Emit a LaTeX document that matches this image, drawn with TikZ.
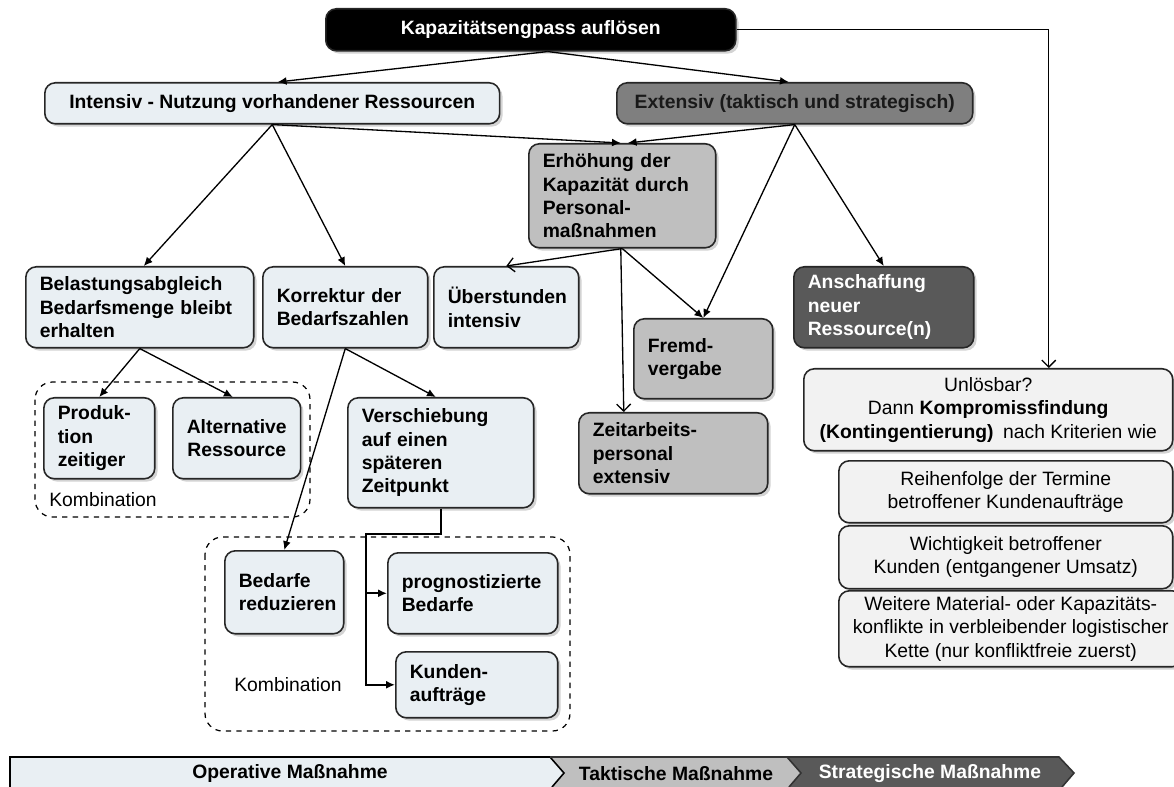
\documentclass[tikz,border=0pt]{standalone}
\usepackage{fontspec}
\setmainfont{Liberation Sans}
\usetikzlibrary{arrows.meta,shadows}
\definecolor{opblue}{RGB}{233,239,243}
\definecolor{taktgray}{RGB}{191,191,191}
\definecolor{midgray}{RGB}{127,127,127}
\definecolor{stratgray}{RGB}{89,89,89}
\definecolor{palegray}{RGB}{242,242,242}
\hyphenpenalty=10000
\exhyphenpenalty=10000

\begin{document}
\begin{tikzpicture}[x=0.02cm,y=-0.02cm,
  box/.style={draw=black!85, line width=0.9pt, rounded corners=6pt, anchor=north west,
    inner xsep=0.28cm, inner ysep=2pt, font=\fontsize{11}{13.3}\selectfont\bfseries,
    drop shadow={shadow xshift=1.6pt,shadow yshift=-1.6pt,opacity=0.35}},
  opbox/.style={box, fill=opblue, align=left},
  taktbox/.style={box, fill=taktgray, align=left},
  critbox/.style={box, fill=palegray, align=center, font=\fontsize{11}{13.3}\selectfont},
  note/.style={font=\fontsize{11}{13.3}\selectfont, inner sep=1pt},
  bartext/.style={font=\fontsize{11}{13.3}\selectfont\bfseries, inner sep=1pt},
  con/.style={line width=0.75pt, -{Latex[length=5pt,width=4.5pt]}},
  opencon/.style={line width=0.75pt, -{Straight Barb[length=4pt,width=8pt]}},
  group/.style={dashed, line width=0.7pt, rounded corners=10pt}]
  \useasboundingbox (0,0) rectangle (1174,787);

  \node[box, fill=black, text=white, align=center, minimum width=8.2cm, minimum height=0.84cm]
    (top) at (325,8) {Kapazitätsengpass auflösen};
  \node[box, fill=opblue, align=center, minimum width=9.1cm, minimum height=0.82cm]
    (intensiv) at (44,82) {Intensiv - Nutzung vorhandener Ressourcen};
  \node[box, fill=midgray, text=black!90, align=center, minimum width=7.12cm, minimum height=0.82cm]
    (extensiv) at (616,82) {Extensiv (taktisch und strategisch)};
  \node[taktbox, text width=3.18cm, minimum height=2.08cm] (erhoehung) at (528,143)
    {Erhöhung der\\Kapazität durch\\Personal-\\maßnahmen};

  \node[opbox, text width=4.0cm, minimum height=1.62cm] (belast) at (25,266)
    {Belastungsabgleich\\Bedarfsmenge bleibt\\erhalten};
  \node[opbox, text width=2.74cm, minimum height=1.62cm] (korrektur) at (262,266)
    {Korrektur der\\Bedarfszahlen};
  \node[opbox, text width=2.34cm, minimum height=1.62cm] (ueber) at (433,266)
    {Überstunden\\intensiv};
  \node[box, fill=stratgray, text=white, align=left, text width=3.04cm, minimum height=1.62cm]
    (anschaff) at (793,266) {Anschaffung\\neuer\\Ressource(n)};
  \node[taktbox, text width=2.22cm, minimum height=1.6cm] (fremd) at (633,318)
    {Fremd-\\vergabe};
  \node[taktbox, text width=3.22cm, minimum height=1.62cm] (zeit) at (578,412)
    {Zeitarbeits-\\personal\\extensiv};

  \node[opbox, text width=1.66cm, minimum height=1.62cm] (produktion) at (43,397)
    {Produk-\\tion\\zeitiger};
  \node[box, fill=opblue, align=center, minimum width=2.5cm, minimum height=1.62cm]
    (alternative) at (172,397) {Alternative\\Ressource};
  \node[opbox, text width=3.16cm, minimum height=2.2cm] (verschieb) at (347,397)
    {Verschiebung\\auf einen\\späteren\\Zeitpunkt};
  \node[opbox, text width=1.82cm, minimum height=1.66cm] (bedarfe) at (224,550)
    {Bedarfe\\reduzieren};
  \node[opbox, text width=2.84cm, minimum height=1.62cm] (prognost) at (387,552)
    {prognostizierte\\Bedarfe};
  \node[opbox, text width=2.68cm, minimum height=1.32cm] (kunden) at (395,651)
    {Kunden-\\aufträge};

  \node[critbox, minimum width=7.38cm, minimum height=1.64cm] (unloesbar) at (803,368)
    {Unlösbar?\\Dann \textbf{Kompromissfindung}\\\textbf{(Kontingentierung)}\enspace nach Kriterien wie};
  \node[critbox, minimum width=6.68cm, minimum height=1.24cm] (reihen) at (838,460)
    {Reihenfolge der Termine\\betroffener Kundenaufträge};
  \node[critbox, minimum width=6.68cm, minimum height=1.26cm] (wichtig) at (838,525)
    {Wichtigkeit betroffener\\Kunden (entgangener Umsatz)};
  \node[critbox, minimum width=6.68cm, minimum height=1.52cm] (weitere) at (838,590)
    {Weitere Material- oder Kapazitäts-\\konflikte in verbleibender logistischer\\Kette (nur konfliktfreie zuerst)};

  \draw[group] (35,382) rectangle (310,517);
  \draw[group] (205,537) rectangle (570,731);
  \node[note] (kombiA) at (103,500) {Kombination};
  \node[note] (kombiB) at (288,685) {Kombination};

  \draw[con] ([xshift=0.34cm]top.south) -- ([xshift=0.11cm]intensiv.north);
  \draw[con] ([xshift=0.34cm]top.south) -- ([xshift=-0.12cm]extensiv.north);
  \draw[opencon] (top.east) -| ([xshift=1.21cm]unloesbar.north);
  \draw[con] (intensiv.south) -- ([xshift=-0.03cm]erhoehung.north);
  \draw[con] (extensiv.south) -- ([xshift=0.11cm]erhoehung.north);
  \draw[con] (intensiv.south) -- ([xshift=0.08cm]belast.north);
  \draw[con] (intensiv.south) -- (korrektur.north);
  \draw[con] (extensiv.south) -- (fremd.north);
  \draw[con] (extensiv.south) -- (anschaff.north);
  \draw[opencon] (erhoehung.south) -- (ueber.north);
  \draw[con] (erhoehung.south) -- (fremd.north);
  \draw[opencon] ([xshift=-0.03cm]erhoehung.south) -- ([xshift=-0.99cm]zeit.north);
  \draw[con] (belast.south) -- (produktion.north);
  \draw[con] (belast.south) -- ([xshift=-0.08cm]alternative.north);
  \draw[con] (korrektur.south) -- ([xshift=-0.1cm]verschieb.north);
  \draw[con] (korrektur.south) -- (bedarfe.north);
  \draw[con, line width=1.1pt] (verschieb.south) |- ++(-75,25) |- (kunden.west);
  \draw[con, line width=1.1pt] ([xshift=-0.44cm]prognost.west) -- (prognost.west);

  \fill[opblue] (10,757) -- (550,757) -- (564,773) -- (552,787) -- (10,787) -- cycle;
  \fill[taktgray] (550,757) -- (787,757) -- (801,773) -- (789,787) -- (552,787) -- (564,773) -- cycle;
  \fill[stratgray] (787,757) -- (1059,757) -- (1074,773) -- (1062,787) -- (789,787) -- (801,773) -- cycle;
  \draw[line width=0.9pt] (10,787) -- (10,757) -- (550,757) -- (564,773) -- (552,787);
  \draw[line width=0.9pt, black!80] (550,757) -- (787,757) -- (801,773) -- (789,787);
  \draw[line width=0.9pt, black!80] (787,757) -- (1059,757) -- (1074,773) -- (1062,787);
  \node[bartext] (operativ) at (290,774) {Operative Maßnahme};
  \node[bartext] (taktisch) at (676,774) {Taktische Maßnahme};
  \node[bartext, text=white] (strategisch) at (930,774) {Strategische Maßnahme};
\end{tikzpicture}
\end{document}
